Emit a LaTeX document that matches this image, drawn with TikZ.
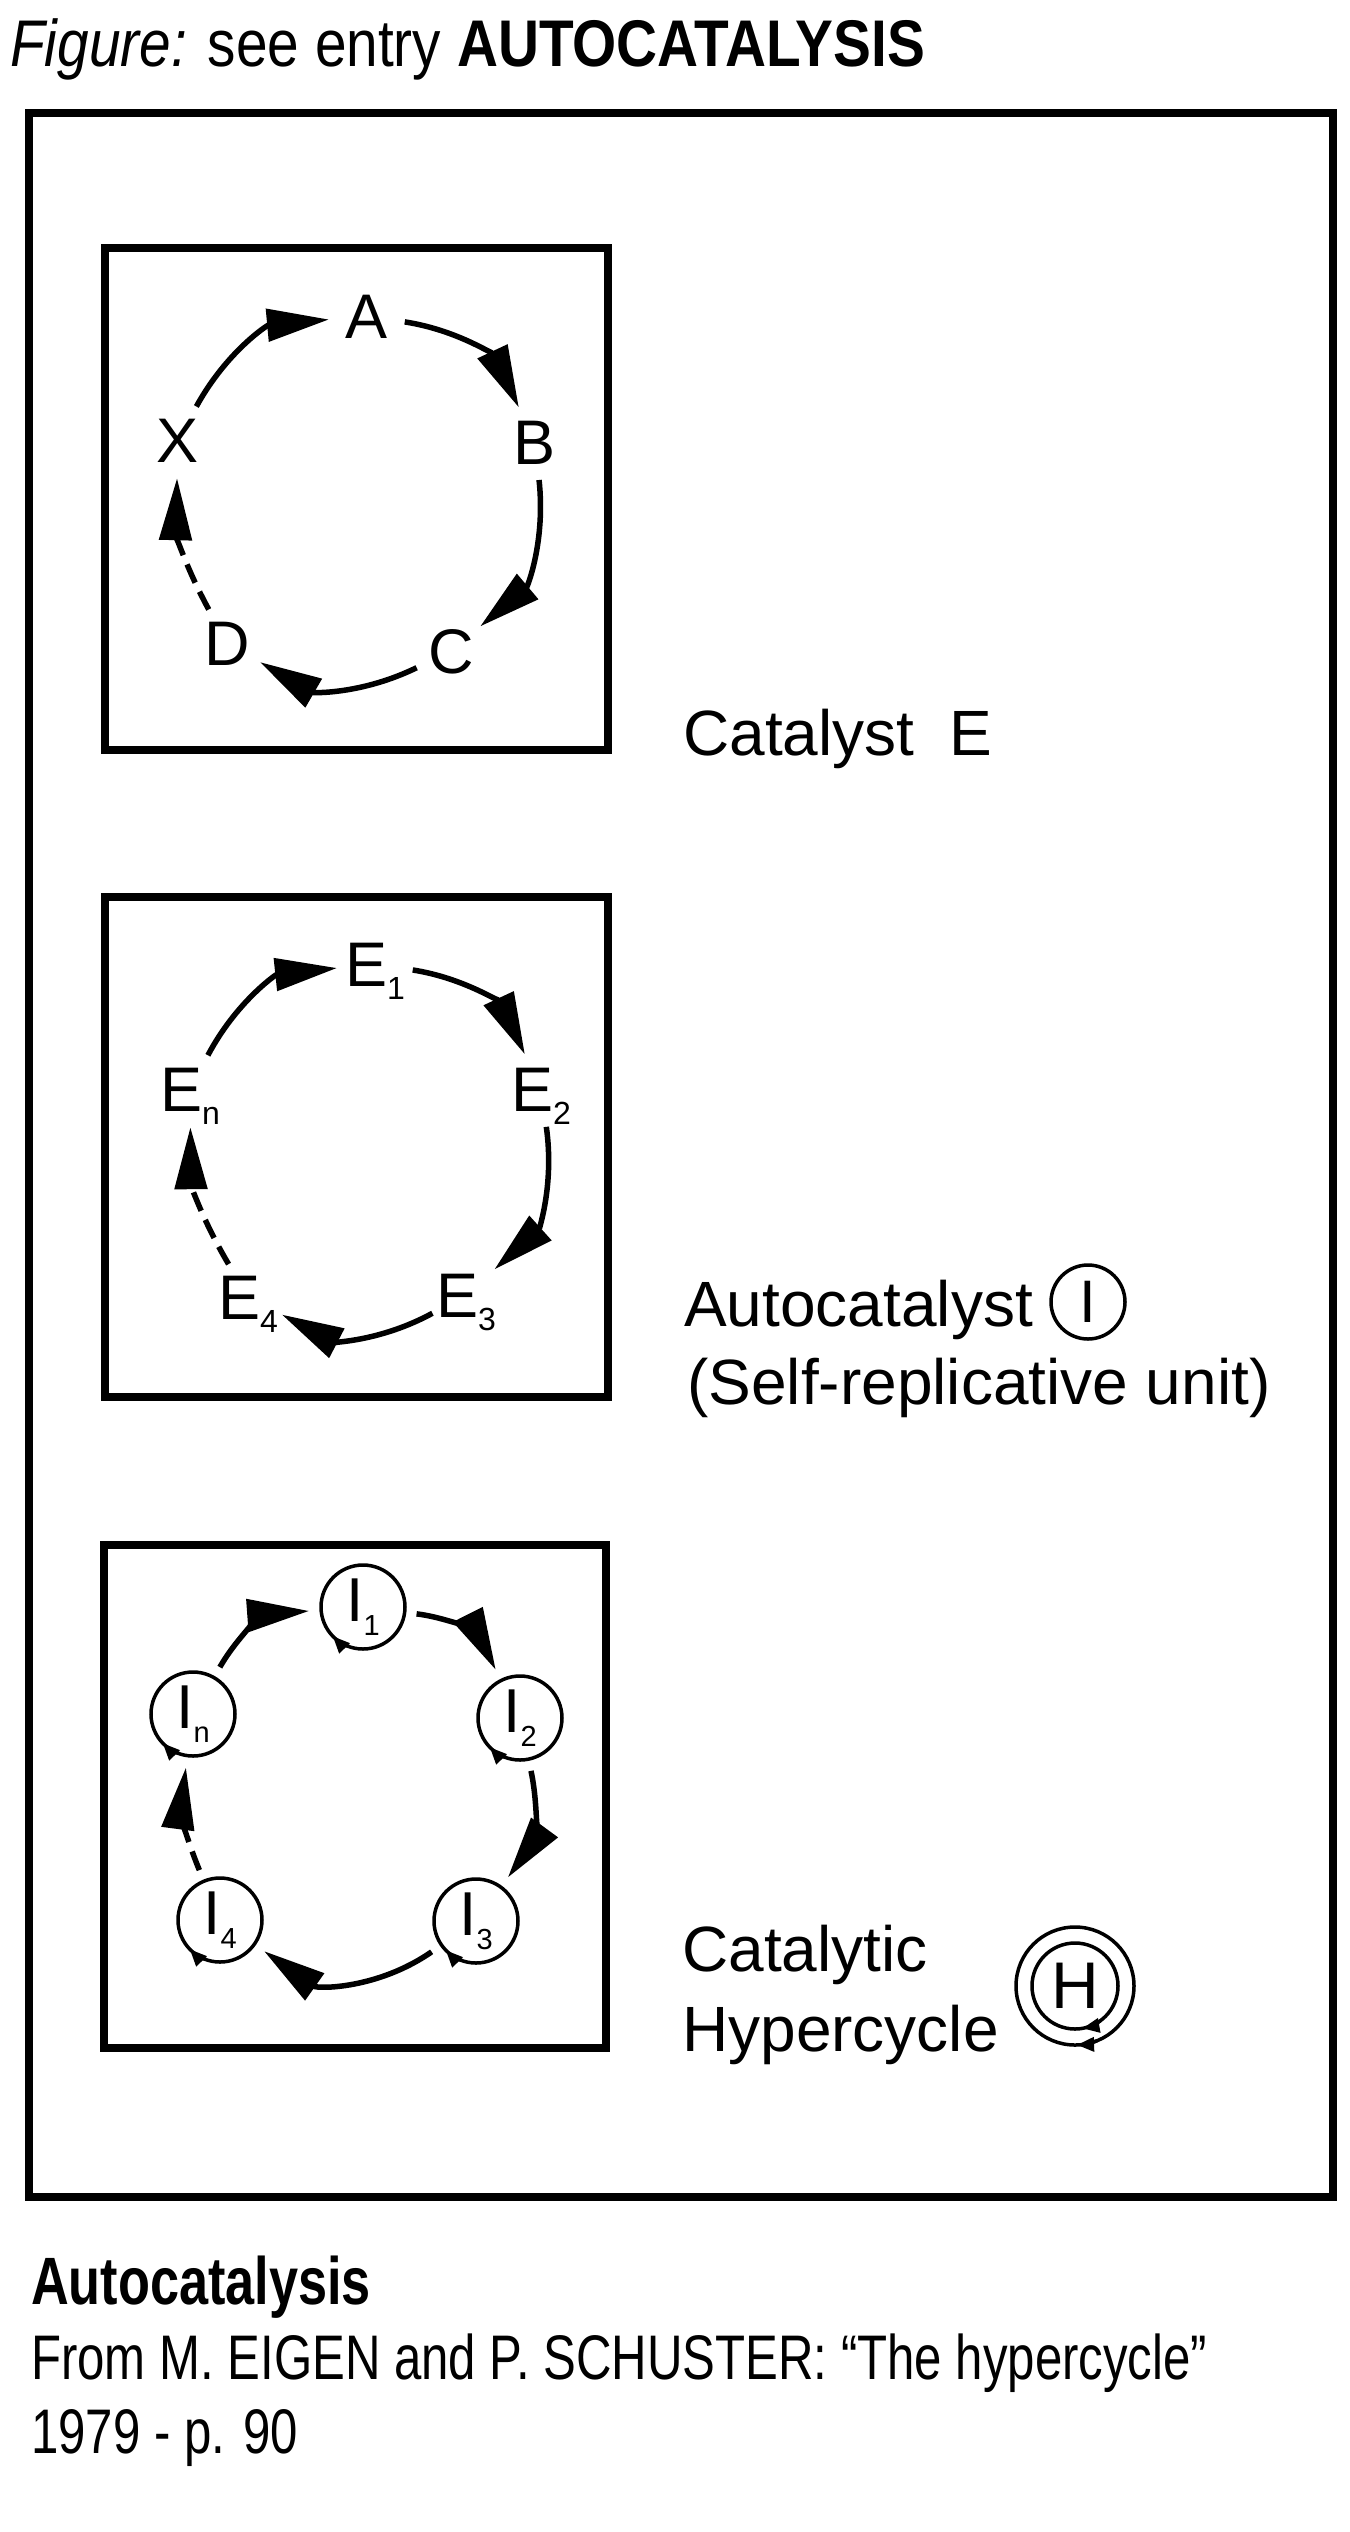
\documentclass[tikz,border=0pt]{standalone}
\usepackage{fontspec}
\setmainfont{Liberation Sans}
\newfontfamily\condfont[FakeStretch=0.78]{Liberation Sans}
\newfontfamily\headfont[FakeStretch=0.86]{Liberation Sans}
\usetikzlibrary{arrows.meta}
\newcommand{\esub}[1]{\raisebox{-13pt}{\fontsize{32}{32}\selectfont #1}}
\newcommand{\isub}[1]{\raisebox{-14pt}{\fontsize{29}{29}\selectfont #1}}

\begin{document}
\begin{tikzpicture}[x=1pt,y=-1pt]

    \tikzset{
      frame/.style={line width=8pt},
      lbl/.style={
        circle,
        inner sep=0pt,
        minimum size=76pt,
        text height=45pt,
        text depth=0pt,
        font=\fontsize{63}{63}\selectfont,
      },
      unit/.style={
        circle,
        draw,
        line width=3.5pt,
        inner sep=0pt,
        minimum size=84pt,
        outer sep=12pt,
        font=\fontsize{62}{62}\selectfont,
      },
      ring/.style={line width=5.5pt, -{Triangle[length=62pt,width=32pt]}},
      weak/.style={ring, dash pattern=on 20pt off 10pt},
      turn/.style={line width=3.5pt, -{Triangle[length=17pt,width=14pt]}},
      txt/.style={anchor=base west, inner sep=0pt, font=\fontsize{64}{64}\selectfont},
    }
    \fill[white] (0,0) rectangle (1349,2532);
    \useasboundingbox (0,0) rectangle (1349,2532);

    \node[txt, font=\headfont\fontsize{66}{66}\selectfont] (title) at (10,66) {\textit{Figure:} see entry \textbf{AUTOCATALYSIS}};

    \draw[frame] (29,113) rectangle (1333,2197);
    \draw[frame] (105,248) rectangle (608,750);
    \draw[frame] (105,897) rectangle (608,1397);
    \draw[frame] (104,1545) rectangle (606,2048);

    % catalyst
    \node[lbl] (A) at (367,316) {A};
    \node[lbl] (B) at (535,442) {B};
    \node[lbl] (C) at (451,651) {C};
    \node[lbl] (D) at (227,643) {D};
    \node[lbl] (X) at (178,440) {X};
    \draw[ring] (X) to[bend left=28] (A);
    \draw[ring] (A) to[bend left=28] (B);
    \draw[ring] (B) to[bend left=28] (C);
    \draw[ring] (C) to[bend left=28] (D);
    \draw[weak] (D) to[bend left=15] (X);
    \node[txt] (cat) at (683,755) {Catalyst\ \ E};

    % autocatalyst
    \node[lbl] (E1) at (375,964) {E\esub{1}};
    \node[lbl] (E2) at (541,1089) {E\esub{2}};
    \node[lbl] (E3) at (466,1295) {E\esub{3}};
    \node[lbl] (E4) at (248,1297) {E\esub{4}};
    \node[lbl] (En) at (190,1089) {E\esub{n}};
    \draw[ring] (En) to[bend left=28] (E1);
    \draw[ring] (E1) to[bend left=28] (E2);
    \draw[ring] (E2) to[bend left=28] (E3);
    \draw[ring] (E3) to[bend left=28] (E4);
    \draw[weak] (E4) to[bend left=15] (En);
    \node[txt] (auto) at (684,1326) {Autocatalyst};
    \node[unit, minimum size=74pt, font=\fontsize{60}{60}\selectfont] (Isym) at (1088,1302) {I};
    \node[txt] (self) at (687,1404) {(Self-replicative unit)};

    % hypercycle
    \node[unit] (I1) at (363,1607) {I\isub{1}};
    \node[unit] (I2) at (520,1718) {I\isub{2}};
    \node[unit] (I3) at (476,1921) {I\isub{3}};
    \node[unit] (I4) at (220,1920) {I\isub{4}};
    \node[unit] (In) at (193,1714) {I\isub{n}};
    \foreach \u in {I1,I2,I3,I4,In}
      \draw[turn] ([shift={(250:42pt)}]\u.center) arc[start angle=250, end angle=224, radius=42pt];
    \draw[ring] (In) to[bend left=28] (I1);
    \draw[ring] (I1) to[bend left=28] (I2);
    \draw[ring] (I2) to[bend left=24] (I3);
    \draw[ring] (I3) to[bend left=35] (I4);
    \draw[weak] (I4) to[bend left=15] (In);
    \node[txt] (caty) at (682,1971) {Catalytic};
    \node[txt] (hyper) at (682,2051) {Hypercycle};
    \node[unit, minimum size=118pt, outer sep=0pt] (Hout) at (1075,1986) {};
    \node[unit, minimum size=86pt, outer sep=0pt, font=\fontsize{66}{66}\selectfont] (H) at (1075,1986) {H};
    \draw[turn] ([shift={(306:43pt)}]H.center) arc[start angle=306, end angle=280, radius=43pt];
    \draw[turn] ([shift={(292:59pt)}]Hout.center) arc[start angle=292, end angle=272, radius=59pt];

    \node[txt, font=\condfont\bfseries\fontsize{67}{67}\selectfont] (caption) at (31,2304) {Autocatalysis};
    \node[txt, font=\condfont\fontsize{63}{63}\selectfont] (source) at (31,2379) {From M. EIGEN and P. SCHUSTER: “The hypercycle”};
    \node[txt, font=\condfont\fontsize{63}{63}\selectfont] (year) at (31,2453) {1979 - p. 90};

\end{tikzpicture}
\end{document}
